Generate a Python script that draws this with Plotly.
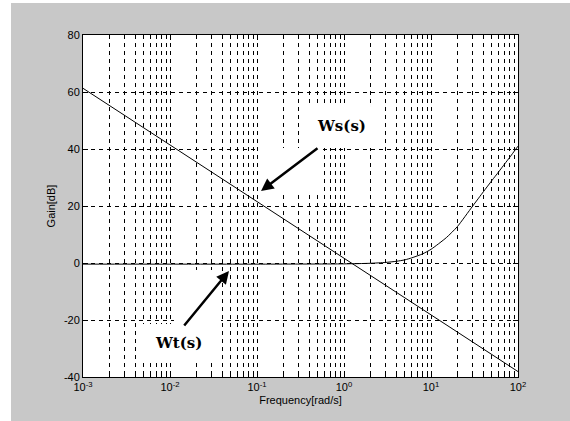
import plotly.graph_objects as go

# ---- data ----
ws_freq = [0.001, 0.01, 0.1, 1.0, 10.0, 100.0]
ws_gain = [61.3, 41.5, 21.7, 1.7, -18.2, -38.1]

wt_freq = [0.001, 0.01, 0.1, 1.0, 2.0, 3.0, 4.0, 5.0, 6.0, 8.0, 10.0, 15.0, 20.0,
           30.0, 40.0, 50.0, 60.0, 70.0, 80.0, 100.0]
wt_gain = [-0.4, -0.4, -0.4, -0.3, -0.1, 0.2, 0.6, 1.1, 1.8, 3.2, 4.8, 8.9, 12.7,
           19.9, 25.0, 28.9, 32.0, 34.7, 37.0, 41.0]

x_tick_vals = [0.001, 0.01, 0.1, 1, 10, 100]
x_tick_text = ["10<sup>-3</sup>", "10<sup>-2</sup>", "10<sup>-1</sup>",
               "10<sup>0</sup>", "10<sup>1</sup>", "10<sup>2</sup>"]
x_minor_vals = [m * d for d in [0.001, 0.01, 0.1, 1, 10] for m in range(2, 10)]
y_tick_vals = [-40, -20, 0, 20, 40, 60, 80]
y_tick_text = ["-40", "-20", "0", "20", "40", "60", "80"]

# ---- layout geometry (pixels) ----
W, H = 570, 421
L, R, T, B = 83, 52, 35, 44
PW, PH = W - L - R, H - T - B


def px(x):
    return (x - L) / PW


def py(y):
    return (H - B - y) / PH


fig = go.Figure()
fig.add_trace(go.Scatter(x=ws_freq, y=ws_gain, mode="lines",
                         line=dict(color="black", width=1), name="Ws(s)"))
fig.add_trace(go.Scatter(x=wt_freq, y=wt_gain, mode="lines",
                         line=dict(color="black", width=1, shape="spline", smoothing=0.6),
                         name="Wt(s)"))

tick_font = dict(family="Liberation Sans, Arial, sans-serif", size=11, color="black")

fig.update_xaxes(type="log", range=[-3, 2], tickvals=x_tick_vals, ticktext=x_tick_text,
                 ticks="inside", ticklen=5, tickcolor="black", mirror="ticks",
                 showline=True, linecolor="black", linewidth=1,
                 showgrid=True, gridcolor="black", gridwidth=1, griddash="4px,4px",
                 zeroline=False, tickfont=tick_font,
                 minor=dict(tickmode="array", tickvals=x_minor_vals,
                            ticks="inside", ticklen=3, tickcolor="black", showgrid=True,
                            gridcolor="black", gridwidth=1, griddash="4px,4px"),
                 title=dict(text="Frequency[rad/s]", font=tick_font, standoff=4))
fig.update_yaxes(range=[-40, 80], tickvals=y_tick_vals, ticktext=y_tick_text,
                 ticks="inside", ticklen=5, tickcolor="black", mirror="ticks",
                 showline=True, linecolor="black", linewidth=1,
                 showgrid=True, gridcolor="black", gridwidth=1, griddash="4px,4px",
                 zeroline=False, tickfont=tick_font,
                 title=dict(text="Gain[dB]", font=tick_font, standoff=6))

# white boxes behind labels / arrows (they cover grid, and no trace passes under them)
boxes = [(302, 107, 378, 148), (259, 148, 323, 193),
         (140, 324, 221, 361), (174, 270, 221, 324)]
shapes = []
for x0, y0, x1, y1 in boxes:
    shapes.append(dict(type="rect", xref="paper", yref="paper",
                       x0=px(x0), x1=px(x1), y0=py(y1), y1=py(y0),
                       fillcolor="white", line=dict(width=0), layer="above"))
# white strips at left and top edge of the figure
shapes.append(dict(type="rect", xref="paper", yref="paper", x0=px(0), x1=px(11),
                   y0=py(H), y1=py(0), fillcolor="white", line=dict(width=0), layer="above"))
shapes.append(dict(type="rect", xref="paper", yref="paper", x0=px(0), x1=px(W),
                   y0=py(3), y1=py(0), fillcolor="white", line=dict(width=0), layer="above"))

label_font = dict(family="DejaVu Serif, serif", size=15, color="black")
annotations = [
    dict(xref="paper", yref="paper", x=px(341), y=py(126), text="<b>Ws(s)</b>",
         showarrow=False, font=label_font, xanchor="center", yanchor="middle"),
    dict(xref="paper", yref="paper", x=px(178), y=py(343), text="<b>Wt(s)</b>",
         showarrow=False, font=label_font, xanchor="center", yanchor="middle"),
    dict(xref="paper", yref="paper", x=px(261), y=py(191), text="", showarrow=True,
         ax=58, ay=-44, arrowhead=2, arrowsize=1, arrowwidth=2.5, arrowcolor="black",
         standoff=0),
    dict(xref="paper", yref="paper", x=px(229), y=py(271), text="", showarrow=True,
         ax=-46, ay=56, arrowhead=2, arrowsize=1, arrowwidth=2.5, arrowcolor="black",
         standoff=0),
]

fig.update_layout(width=W, height=H, margin=dict(l=L, r=R, t=T, b=B, pad=0),
                  paper_bgcolor="#c8c8c8", plot_bgcolor="white", showlegend=False,
                  shapes=shapes, annotations=annotations)

fig.write_html("out.html", config={"displayModeBar": False},
               post_script=("document.body.style.margin='0';"
                            "document.body.style.padding='0';"
                            "document.body.style.overflow='hidden';"
                            "document.documentElement.style.overflow='hidden';"))
